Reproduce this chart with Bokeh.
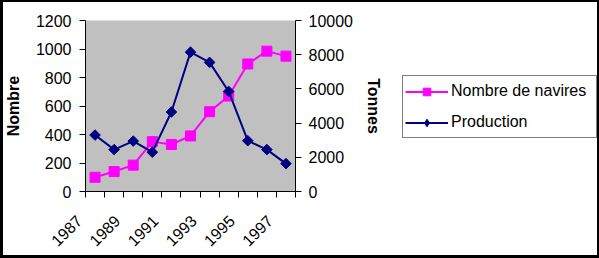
import math
from bokeh.plotting import figure
from bokeh.layouts import row
from bokeh.models import Range1d, LinearAxis, FixedTicker, Legend, LegendItem
from bokeh.embed import file_html
from bokeh.resources import INLINE

# ---- data ----
years = [1987, 1988, 1989, 1990, 1991, 1992, 1993, 1994, 1995, 1996, 1997]
nombre_navires = [100, 140, 185, 350, 330, 390, 560, 670, 895, 985, 950]
production = [3300, 2450, 2950, 2300, 4650, 8150, 7550, 5850, 2970, 2450, 1630]
left_ticks = [0, 200, 400, 600, 800, 1000, 1200]
right_ticks = [0, 2000, 4000, 6000, 8000, 10000]
label_years = years[::2]
series_names = ["Nombre de navires", "Production"]

FONT = "Liberation Sans"
PINK = "#FF00FF"
NAVY = "#000080"
NBSP_PAD = "\u00a0" * 5  # slides the rotated year labels down-left, as Excel places them

p = figure(width=390, height=258, output_backend="svg", toolbar_location=None,
           x_range=Range1d(years[0] - 0.5, years[-1] + 0.5),
           y_range=Range1d(left_ticks[0], left_ticks[-1]),
           min_border_left=85, min_border_right=95,
           min_border_top=20, min_border_bottom=66,
           background_fill_color="#C0C0C0", border_fill_color="white")
p.outline_line_color = None
p.xgrid.visible = False
p.ygrid.visible = False
p.extra_y_ranges = {"t": Range1d(right_ticks[0], right_ticks[-1])}

# x axis
xa = p.xaxis[0]
xa.ticker = FixedTicker(ticks=label_years,
                        minor_ticks=[y - 0.5 for y in years] + [years[-1] + 0.5])
xa.major_label_overrides = {y: str(y) + NBSP_PAD for y in label_years}
xa.major_tick_out = 0
xa.major_tick_in = 0
xa.minor_tick_out = 6
xa.minor_tick_in = 0
xa.minor_tick_line_color = "black"
xa.major_label_orientation = math.pi / 4
xa.major_label_text_font = FONT
xa.major_label_text_font_size = "16px"
xa.major_label_text_color = "black"
xa.major_label_standoff = 5
xa.axis_line_color = "black"

# left axis
ya = p.yaxis[0]
ya.ticker = FixedTicker(ticks=left_ticks)
ya.major_tick_out = 6
ya.major_tick_in = 0
ya.minor_tick_out = 0
ya.minor_tick_in = 0
ya.major_label_text_font = FONT
ya.major_label_text_font_size = "16px"
ya.major_label_text_color = "black"
ya.major_label_standoff = 8
ya.axis_label = "Nombre"
ya.axis_label_text_font = FONT
ya.axis_label_text_font_size = "16px"
ya.axis_label_text_font_style = "bold"
ya.axis_label_text_color = "black"
ya.axis_label_standoff = 11
ya.axis_line_color = "black"

# right axis
ra = LinearAxis(y_range_name="t", ticker=FixedTicker(ticks=right_ticks))
ra.major_tick_out = 6
ra.major_tick_in = 0
ra.minor_tick_out = 0
ra.minor_tick_in = 0
ra.major_label_text_font = FONT
ra.major_label_text_font_size = "16px"
ra.major_label_text_color = "black"
ra.major_label_standoff = 7
ra.axis_label = "Tonnes"
ra.axis_label_text_font = FONT
ra.axis_label_text_font_size = "16px"
ra.axis_label_text_font_style = "bold"
ra.axis_label_text_color = "black"
ra.axis_label_standoff = 9
ra.axis_line_color = "black"
p.add_layout(ra, "right")

# series on the chart
p.line(years, nombre_navires, line_color=PINK, line_width=2)
p.scatter(years, nombre_navires, marker="square", size=10,
          fill_color=PINK, line_color=PINK)
p.line(years, production, line_color=NAVY, line_width=2, y_range_name="t")
p.scatter(years, production, marker="square", angle=math.pi / 4, size=7.5,
          fill_color=NAVY, line_color=NAVY, y_range_name="t")

# legend panel (same series, drawn out of view; only the legend shows)
q = figure(width=209, height=258, output_backend="svg", toolbar_location=None,
           x_range=Range1d(0, 1), y_range=Range1d(0, 1),
           x_axis_location=None, y_axis_location=None,
           min_border=0, min_border_left=0, min_border_right=0,
           min_border_top=0, min_border_bottom=0,
           background_fill_color="white", border_fill_color="white")
q.outline_line_color = None
q.xgrid.visible = False
q.ygrid.visible = False
q.extra_y_ranges = {"t": Range1d(0, 1)}
ql1 = q.line(years, nombre_navires, line_color=PINK, line_width=2)
qs1 = q.scatter(years, nombre_navires, marker="square", size=7,
                fill_color=PINK, line_color=PINK)
ql2 = q.line(years, production, line_color=NAVY, line_width=2, y_range_name="t")
qs2 = q.scatter(years, production, marker="diamond", size=10,
                fill_color=NAVY, line_color=NAVY, y_range_name="t")

legend = Legend(items=[LegendItem(label=series_names[0], renderers=[ql1, qs1]),
                       LegendItem(label=series_names[1], renderers=[ql2, qs2])],
                location=(12, 53), orientation="vertical")
legend.border_line_color = "black"
legend.border_line_width = 1
legend.background_fill_color = "white"
legend.background_fill_alpha = 1
legend.padding = 2
legend.spacing = 5
legend.margin = 0
legend.glyph_width = 43
legend.glyph_height = 19
legend.label_height = 26
legend.label_width = 143
legend.label_standoff = 3
legend.label_text_font = FONT
legend.label_text_font_size = "16px"
legend.label_text_color = "black"
q.add_layout(legend, "center")

frame_css = (":host {{ position: relative; }} :host::after {{ content: ''; position: absolute; "
             "left: 0; top: 0; right: 0; bottom: 0; border-style: solid; border-color: black; "
             "border-width: {}; pointer-events: none; box-sizing: border-box; z-index: 10; }}")
p.stylesheets = [frame_css.format("2px 0px 3px 3px")]
q.stylesheets = [frame_css.format("2px 2px 3px 0px")]

layout = row(p, q)
open("out.html", "w").write(file_html(layout, INLINE))
